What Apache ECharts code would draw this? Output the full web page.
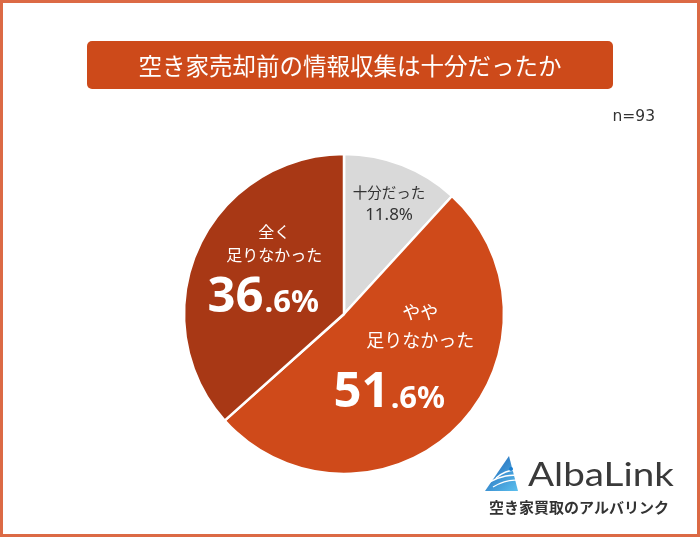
<!DOCTYPE html>
<html>
<head>
<meta charset="utf-8">
<script src="https://cdn.jsdelivr.net/npm/echarts@6/dist/echarts.min.js"></script>
<style>
html,body{margin:0;padding:0;background:#fff;}
#main{width:700px;height:537px;}
</style>
</head>
<body>
<div id="main"></div>
<script>
// ---- data ----
const titleText = '空き家売却前の情報収集は十分だったか';
const sampleText = 'n=93';
const categories = ['十分だった', 'やや足りなかった', '全く足りなかった'];
const labelLines = [['十分だった'], ['やや', '足りなかった'], ['全く', '足りなかった']];
const values = [11.8, 51.6, 36.6];
const colors = ['#d9d9d9', '#cf4a1a', '#a83815'];
const brandName = 'AlbaLink';
const brandSub = '空き家買取のアルバリンク';

const FONT = '"Noto Sans CJK JP", "Noto Sans", sans-serif';
const NUMFONT = '"Noto Sans", "Noto Sans CJK JP", sans-serif';

// label layout per slice (styling only)
const labelStyles = [
  { offset: [15, -33] },
  { offset: [18, -15], lh: 27.5, fs: 18, padTop: 15, shift: 62 },
  { offset: [6, -9], lh: 23, fs: 16, padTop: 7, shift: 22 }
];

const data = values.map(function (v, i) {
  const ls = labelStyles[i];
  let label;
  if (i === 0) {
    label = {
      show: true, position: 'inside', offset: ls.offset,
      formatter: '{g|' + labelLines[i][0] + '}\n{p|' + v.toFixed(1) + '%}',
      rich: {
        g: { fontFamily: FONT, fontSize: 14.5, color: '#333', lineHeight: 23 },
        p: { fontFamily: NUMFONT, fontSize: 17, color: '#333', lineHeight: 23 }
      }
    };
  } else {
    const parts = v.toFixed(1).split('.');
    label = {
      show: true, position: 'inside', offset: ls.offset,
      formatter: labelLines[i].map(function (s) { return '{t|' + s + '}'; }).join('\n') +
        '\n{b|' + parts[0] + '}{m|.' + parts[1] + '%}',
      rich: {
        t: { fontFamily: FONT, fontSize: ls.fs, color: '#fff', lineHeight: ls.lh },
        b: { fontFamily: NUMFONT, fontSize: 49, fontWeight: 'bold', color: '#fff', verticalAlign: 'bottom', padding: [ls.padTop, 0, 0, 0] },
        m: { fontFamily: NUMFONT, fontSize: 31, fontWeight: 'bold', color: '#fff', verticalAlign: 'bottom', padding: [0, ls.shift, 3, 1] }
      }
    };
  }
  return { name: categories[i], value: v, itemStyle: { color: colors[i] }, label: label };
});

const chart = echarts.init(document.getElementById('main'), null, { renderer: 'canvas' });
chart.setOption({
  animation: false,
  backgroundColor: '#ffffff',
  series: [{
    type: 'pie',
    center: [344, 314],
    radius: [0, 160],
    startAngle: 90,
    clockwise: true,
    avoidLabelOverlap: false,
    labelLine: { show: false },
    emphasis: { disabled: true },
    itemStyle: { borderColor: '#ffffff', borderWidth: 2.5 },
    data: data
  }],
  graphic: [
    { type: 'rect', shape: { x: 1.5, y: 1.5, width: 697, height: 534 }, style: { fill: 'none', stroke: '#dc6a45', lineWidth: 3 }, silent: true },
    { type: 'rect', shape: { x: 87, y: 41, width: 526, height: 48, r: 5 }, style: { fill: '#cd4a1a' } },
    { type: 'text', x: 350, y: 66, style: { text: titleText, fill: '#fff', font: '23.5px ' + FONT, textAlign: 'center', textVerticalAlign: 'middle' } },
    { type: 'text', x: 655, y: 117, style: { text: sampleText, fill: '#333', font: '15.5px "DejaVu Sans", sans-serif', textAlign: 'right', textVerticalAlign: 'middle' } },
    // logo mark
    { type: 'polygon', shape: { points: [[485, 491], [509, 456], [518, 491]] },
      style: { fill: new echarts.graphic.LinearGradient(0, 0, 1, 1, [{ offset: 0, color: '#1a5fb4' }, { offset: 1, color: '#5cc0ee' }]) } },
    { type: 'bezierCurve', shape: { x1: 490, y1: 482, x2: 520, y2: 476, cpx1: 500, cpy1: 476, cpx2: 512, cpy2: 474 }, style: { stroke: '#fff', lineWidth: 1.3, fill: 'none' } },
    { type: 'bezierCurve', shape: { x1: 493, y1: 487, x2: 522, y2: 481, cpx1: 503, cpy1: 481, cpx2: 514, cpy2: 479 }, style: { stroke: '#fff', lineWidth: 1.3, fill: 'none' } },
    { type: 'bezierCurve', shape: { x1: 496, y1: 478, x2: 516, y2: 470, cpx1: 503, cpy1: 472, cpx2: 510, cpy2: 470 }, style: { stroke: '#fff', lineWidth: 1.3, fill: 'none' } },
    { type: 'circle', shape: { cx: 511, cy: 469, r: 2 }, style: { fill: '#1a7fd0' } },
    { type: 'text', x: 528, y: 475, scaleX: 1.17, style: { text: brandName, fill: '#3a3a3a', font: '33px Lato, "Noto Sans", sans-serif', textAlign: 'left', textVerticalAlign: 'middle' } },
    { type: 'text', x: 579, y: 507, style: { text: brandSub, fill: '#333', font: 'bold 15px ' + FONT, textAlign: 'center', textVerticalAlign: 'middle' } }
  ]
});
</script>
</body>
</html>
